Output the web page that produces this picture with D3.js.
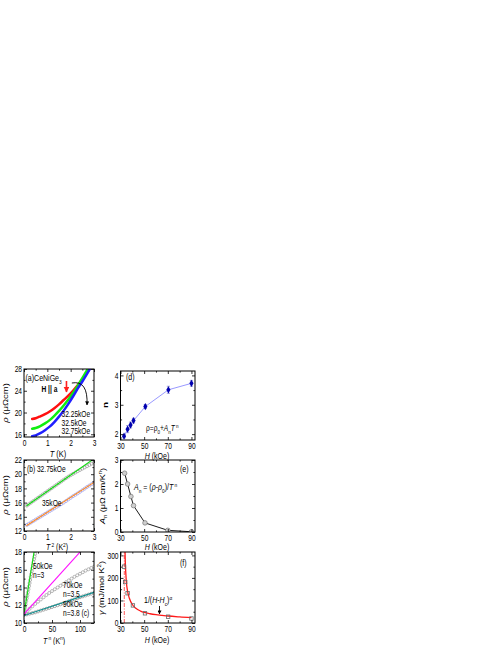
<!DOCTYPE html>
<html><head><meta charset="utf-8">
<script src="https://cdn.jsdelivr.net/npm/d3@7"></script>
<style>body{margin:0;background:#fff} svg{display:block} text{font-family:"Liberation Sans",Arial,sans-serif}</style>
</head><body><svg id="c" width="498" height="645"></svg>
<script>
// ---------- DATA ----------
// (a) rho vs T
const aT      = [0.35,0.5,0.7,0.9,1.1,1.3,1.5,1.7,1.9,2.1,2.3,2.5,2.7,2.9];
const aRed    = [18.8,18.95,19.3,19.7,20.2,20.8,21.5,22.3,23.1,24.0,25.0,26.1,27.3,28.6];
const aGreen  = [17.0,17.15,17.5,18.0,18.6,19.4,20.3,21.3,22.4,23.6,24.9,26.3,27.8,29.3];
const aBlue   = [15.65,15.8,16.2,16.75,17.4,18.25,19.25,20.35,21.6,22.95,24.4,25.7,27.1,28.6];
const aLabels = ["32.25kOe","32.5kOe","32.75kOe"];
// (b) rho vs T^2
const bT2   = [0.12,0.2,0.3,0.4,0.5,0.6,0.7,0.8,0.9,1.0,1.1,1.2,1.3,1.4,1.5,1.6,1.7,1.8,1.9,2.0,2.1,2.2,2.3,2.4,2.5,2.6,2.7,2.8,2.9,3.0];
const b3275 = [15.58,15.76,15.99,16.22,16.45,16.68,16.91,17.14,17.37,17.6,17.83,18.06,18.29,18.52,18.75,18.98,19.21,19.44,19.66,19.86,20.05,20.24,20.42,20.6,20.78,20.95,21.12,21.3,21.48,21.65];
const b35   = [12.85,13.0,13.2,13.4,13.6,13.8,14.0,14.2,14.4,14.6,14.8,15.0,15.2,15.4,15.6,15.8,16.0,16.22,16.45,16.67,16.9,17.1,17.3,17.52,17.75,17.97,18.2,18.4,18.6,18.8];
const bFit3275X = [0.1,2.92], bFit3275Y = [15.53,22.0];
const bFit35X   = [0.1,3.0],  bFit35Y   = [12.75,18.85];
// (c) rho vs T^n
const c50X = [0.05,1,2,3,4,5,6,7,8,9,10,11,12,13,14,15,16,17,18,19,20,21];
const c50Y = [11.0,11.38,11.75,12.1,12.45,12.78,13.1,13.45,13.8,14.15,14.5,14.85,15.2,15.52,15.85,16.18,16.5,16.85,17.2,17.5,17.8,18.1];
const c70X = [0.05,5,10,15,20,25,30,35,40,45,50,55,60,65,70,75,80,85,90,95,100,105,110,115,120,125];
const c70Y = [11.0,11.3,11.6,11.88,12.15,12.4,12.65,12.9,13.15,13.38,13.6,13.8,14.0,14.2,14.4,14.6,14.8,15.0,15.2,15.38,15.55,15.72,15.9,16.05,16.2,16.35];
const c90X = [0.05,5,10,15,20,25,30,35,40,45,50,55,60,65,70,75,80,85,90,95,100,105,110,115,120,125];
const c90Y = [10.9,10.97,11.05,11.12,11.2,11.3,11.4,11.5,11.6,11.7,11.8,11.9,12.0,12.1,12.2,12.32,12.45,12.55,12.65,12.78,12.9,13.0,13.1,13.2,13.3,13.4];
const cFit50X = [0,18.5],  cFit50Y = [11.0,18.2];
const cFit70X = [0,103],   cFit70Y = [11.0,18.2];
const cFit90X = [0,125],   cFit90Y = [10.85,13.45];
// (d) exponent n vs H
const dH   = [33,36,38.5,41,51,70.5,90];
const dN   = [1.93,2.17,2.31,2.46,2.94,3.51,3.73];
const dErr = [0.06,0.12,0.1,0.08,0.07,0.12,0.1];
// (e) A_n vs H
const eH = [33.5,36,38.8,41,50.7,70,90];
const eA = [2.45,2.0,1.48,1.1,0.38,0.07,0.01];
// (f) gamma vs H
const fH = [33,34,36,40.5,50.7,70.3,90];
const fG = [250,182,132,78,43,28,20];
const fFitH = [33.85,34,34.5,35,36,37.5,40,43,47,50,55,60,65,70,80,90];
const fFitG = [315,280,220,180,140,110,82,65,53,47,41,37,34,31,27,24];
const fHc = 33.2;

// ---------- DRAWING ----------
const svg = d3.select('#c');
const SX = 0.78;   // horizontal text compression of the reference
const FF = '"Liberation Sans",Arial,sans-serif';

function rich(parent, x, y, parts, o = {}) {
  const size = o.fs || 9;
  const t = parent.append('text')
    .attr('transform', o.rot ? `translate(${x},${y}) rotate(-90) scale(1,${SX})` : `translate(${x},${y}) scale(${SX},1)`)
    .attr('font-size', size).attr('text-anchor', o.anchor || 'start').attr('fill', o.fill || '#000');
  let shift = 0;
  parts.forEach(p => {
    const [s, st] = Array.isArray(p) ? p : [p, ''];
    const toks = st.split(' ');
    let target = 0, k = 1;
    if (toks.includes('sub')) { target = 0.3; k = 0.68; }
    if (toks.includes('sup')) { target = -0.38; k = 0.68; }
    const ts = t.append('tspan').text(s).attr('dy', ((target - shift) * size).toFixed(2));
    shift = target;
    if (k !== 1) ts.attr('font-size', size * k);
    if (toks.includes('i')) ts.attr('font-style', 'italic');
    if (toks.includes('b')) ts.attr('font-weight', 'bold');
  });
  return t;
}

let pid = 0;
function panel(o) {
  const x = d3.scaleLinear().domain(o.xd).range([o.l, o.r]);
  const y = d3.scaleLinear().domain(o.yd).range([o.b, o.t]);
  const id = 'clip' + (pid++);
  svg.append('clipPath').attr('id', id).append('rect')
    .attr('x', o.l).attr('y', o.t).attr('width', o.r - o.l).attr('height', o.b - o.t);
  const g = svg.append('g');
  const data = g.append('g').attr('clip-path', `url(#${id})`);
  const mk = (fn, sc, vals, size, labels, tr) => {
    const a = fn(sc).tickValues(vals).tickSizeInner(-size).tickSizeOuter(0).tickPadding(2.5);
    if (!labels) a.tickFormat(''); else a.tickFormat(d3.format('d'));
    const ag = g.append('g').attr('transform', tr).call(a);
    ag.select('.domain').remove();
    ag.selectAll('line').attr('stroke', '#000').attr('stroke-width', 0.8);
    ag.selectAll('text').attr('font-size', 8.5).attr('font-family', FF).attr('fill', '#000')
      .attr('transform', `scale(${SX},1)`);
  };
  mk(d3.axisBottom, x, o.xt, 3, true, `translate(0,${o.b})`);
  mk(d3.axisBottom, x, o.xm, 1.6, false, `translate(0,${o.b})`);
  mk(d3.axisTop, x, o.xt, 3, false, `translate(0,${o.t})`);
  mk(d3.axisTop, x, o.xm, 1.6, false, `translate(0,${o.t})`);
  mk(d3.axisLeft, y, o.yt, 3, true, `translate(${o.l},0)`);
  mk(d3.axisLeft, y, o.ym, 1.6, false, `translate(${o.l},0)`);
  mk(d3.axisRight, y, o.yt, 3, false, `translate(${o.r},0)`);
  mk(d3.axisRight, y, o.ym, 1.6, false, `translate(${o.r},0)`);
  g.append('rect').attr('x', o.l).attr('y', o.t).attr('width', o.r - o.l).attr('height', o.b - o.t)
    .attr('fill', 'none').attr('stroke', '#000').attr('stroke-width', 1);
  return { x, y, g, data };
}
const zip = (X, Y) => X.map((v, i) => [v, Y[i]]);

// arrow markers (fixed size in user space)
const defs = svg.append('defs');
[['ak', '#000', 4], ['ar', '#ff2020', 6]].forEach(([id, c, s]) => {
  defs.append('marker').attr('id', id).attr('viewBox', '0 0 10 10').attr('refX', 9).attr('refY', 5)
    .attr('markerUnits', 'userSpaceOnUse').attr('markerWidth', s).attr('markerHeight', s).attr('orient', 'auto')
    .append('path').attr('d', 'M0,0 L10,5 L0,10 z').attr('fill', c);
});

const L = { l: 24, r: 94 }, R = { l: 120.5, r: 195 };
const circ = (p, X, Y, c) => p.data.append('g').selectAll('circle').data(zip(X, Y)).join('circle')
  .attr('cx', d => p.x(d[0])).attr('cy', d => p.y(d[1])).attr('r', 1.5)
  .attr('fill', 'none').attr('stroke', c).attr('stroke-width', 0.7);
const seg = (p, X, Y, c) => p.data.append('line').attr('x1', p.x(X[0])).attr('y1', p.y(Y[0]))
  .attr('x2', p.x(X[1])).attr('y2', p.y(Y[1])).attr('stroke', c).attr('stroke-width', 1.1);

// ----- (a)
{
  const p = panel({ ...L, t: 369, b: 437, xd: [0, 3], yd: [15.5, 28],
    xt: [0, 1, 2, 3], xm: [0.5, 1.5, 2.5], yt: [16, 20, 24, 28], ym: [18, 22, 26] });
  const line = d3.line().x(d => p.x(d[0])).y(d => p.y(d[1])).curve(d3.curveMonotoneX);
  [[aRed, '#ff1010'], [aGreen, '#10ee10'], [aBlue, '#2020ff']].forEach(([Y, c]) => {
    p.data.append('path').attr('d', line(zip(aT, Y))).attr('fill', 'none').attr('stroke', c)
      .attr('stroke-width', 2.5).attr('stroke-linecap', 'round');
  });
  rich(svg, 25.5, 381, ['(a)CeNiGe', ['3', 'sub']], { fs: 9 });
  rich(svg, 41.5, 392, [['H', 'b'], ['  ||  ', 'b'], ['a', 'b']], { fs: 8.5 });
  svg.append('line').attr('x1', p.x(1.82)).attr('y1', 381).attr('x2', p.x(1.82)).attr('y2', 392)
    .attr('stroke', '#ff2020').attr('stroke-width', 1.6).attr('marker-end', 'url(#ar)');
  svg.append('path').attr('d', `M${p.x(2.05)},383 Q${p.x(2.75)},380 ${p.x(2.7)},405`)
    .attr('fill', 'none').attr('stroke', '#000').attr('stroke-width', 0.9).attr('marker-end', 'url(#ak)');
  aLabels.forEach((s, i) => rich(svg, 61.5, 417 + i * 8.5, [s], { fs: 8.5 }));
  rich(svg, 7.5, 403, [['ρ', 'i'], ' (μΩcm)'], { rot: true, anchor: 'middle', fs: 9.5 });
  rich(svg, 58, 457, [['T', 'i'], ' (K)'], { anchor: 'middle', fs: 9.5 });
}
// ----- (b)
{
  const p = panel({ ...L, t: 460, b: 531, xd: [0, 3], yd: [12, 22],
    xt: [0, 1, 2, 3], xm: [0.5, 1.5, 2.5], yt: [12, 14, 16, 18, 20, 22], ym: [13, 15, 17, 19, 21] });
  circ(p, bT2, b3275, '#999');
  circ(p, bT2, b35, '#9a9ae6');
  seg(p, bFit3275X, bFit3275Y, '#10dd10');
  seg(p, bFit35X, bFit35Y, '#ff8a20');
  rich(svg, 27, 472, ['(b) 32.75kOe'], { fs: 8.5 });
  rich(svg, 42, 506, ['35kOe'], { fs: 8.5 });
  rich(svg, 7.5, 495, [['ρ', 'i'], ' (μΩcm)'], { rot: true, anchor: 'middle', fs: 9.5 });
  rich(svg, 57, 550, [['T', 'i'], [' 2', 'sup'], ' (K', ['2', 'sup'], ')'], { anchor: 'middle', fs: 9 });
}
// ----- (c)
{
  const p = panel({ ...L, t: 552, b: 623, xd: [0, 125], yd: [10, 18],
    xt: [0, 50, 100], xm: [25, 75, 125], yt: [10, 12, 14, 16, 18], ym: [11, 13, 15, 17] });
  circ(p, c50X, c50Y, '#999'); circ(p, c70X, c70Y, '#999'); circ(p, c90X, c90Y, '#888');
  seg(p, cFit50X, cFit50Y, '#10dd10');
  seg(p, cFit70X, cFit70Y, '#ff10ff');
  seg(p, cFit90X, cFit90Y, '#109090');
  rich(svg, 33, 569, ['50kOe'], { fs: 8.5 });
  rich(svg, 33, 578, ['n=3'], { fs: 8.5 });
  rich(svg, 63, 588, ['70kOe'], { fs: 8.5 });
  rich(svg, 63, 597, ['n=3.5'], { fs: 8.5 });
  rich(svg, 63, 607, ['90kOe'], { fs: 8.5 });
  rich(svg, 63, 616, ['n=3.8 (c)'], { fs: 8.5 });
  rich(svg, 7.5, 587, [['ρ', 'i'], ' (μΩcm)'], { rot: true, anchor: 'middle', fs: 9.5 });
  rich(svg, 54, 643.5, [['T', 'i'], [' n', 'sup'], ' (K', ['n', 'sup'], ')'], { anchor: 'middle', fs: 9 });
}
// ----- (d)
{
  const p = panel({ ...R, t: 371, b: 440, xd: [30, 93], yd: [1.8, 4.15],
    xt: [30, 50, 70, 90], xm: [40, 60, 80], yt: [2, 3, 4], ym: [2.5, 3.5] });
  const pts = dH.map((h, i) => [h, dN[i], dErr[i]]);
  p.data.append('path').attr('d', d3.line().x(d => p.x(d[0])).y(d => p.y(d[1]))(pts))
    .attr('fill', 'none').attr('stroke', '#9999ff').attr('stroke-width', 1);
  const eb = p.data.append('g').attr('stroke', '#8c8cd0').attr('stroke-width', 0.8);
  pts.forEach(d => {
    const cx = p.x(d[0]);
    eb.append('line').attr('x1', cx).attr('x2', cx).attr('y1', p.y(d[1] - d[2])).attr('y2', p.y(d[1] + d[2]));
    [d[1] - d[2], d[1] + d[2]].forEach(v => eb.append('line').attr('x1', cx - 1.6).attr('x2', cx + 1.6)
      .attr('y1', p.y(v)).attr('y2', p.y(v)));
  });
  p.data.append('g').selectAll('path').data(pts).join('path')
    .attr('d', d3.symbol(d3.symbolDiamond, 15))
    .attr('transform', d => `translate(${p.x(d[0])},${p.y(d[1])})`).attr('fill', '#0000b0');
  rich(svg, 126, 380, ['(d)'], { fs: 9 });
  rich(svg, 146, 431, ['ρ=ρ', ['0', 'sub'], '+', ['A', 'i'], ['n', 'sub'], ['T', 'i'], [' n', 'sup']], { fs: 8.5 });
  rich(svg, 108, 405, [['n', 'b']], { rot: true, anchor: 'middle', fs: 10 });
  rich(svg, 157, 458.5, [['H', 'i'], ' (kOe)'], { anchor: 'middle', fs: 9 });
}
// ----- (e)
{
  const p = panel({ ...R, t: 460, b: 532, xd: [30, 93], yd: [0, 3],
    xt: [30, 50, 70, 90], xm: [40, 60, 80], yt: [0, 1, 2, 3], ym: [0.5, 1.5, 2.5] });
  const pts = zip(eH, eA);
  p.data.append('path').attr('d', d3.line().x(d => p.x(d[0])).y(d => p.y(d[1]))(pts))
    .attr('fill', 'none').attr('stroke', '#000').attr('stroke-width', 0.9);
  p.data.append('g').selectAll('circle').data(pts).join('circle')
    .attr('cx', d => p.x(d[0])).attr('cy', d => p.y(d[1])).attr('r', 2.3)
    .attr('fill', '#cfcfcf').attr('stroke', '#777').attr('stroke-width', 0.7);
  rich(svg, 180, 472, ['(e)'], { fs: 9 });
  rich(svg, 134, 490, [['A', 'i'], ['n', 'sub'], ' = (', ['ρ', 'i'], '-', ['ρ', 'i'], ['0', 'sub'], ')/', ['T', 'i'], [' n', 'sup']], { fs: 9 });
  rich(svg, 105, 496, [['A', 'i'], ['n', 'sub'], ' (μΩ cm/K', ['n', 'sup'], ')'], { rot: true, anchor: 'middle', fs: 9 });
  rich(svg, 157, 550, [['H', 'i'], ' (kOe)'], { anchor: 'middle', fs: 9 });
}
// ----- (f)
{
  const p = panel({ ...R, t: 552, b: 623, xd: [30, 93], yd: [0, 315],
    xt: [30, 50, 70, 90], xm: [40, 60, 80], yt: [0, 100, 200, 300], ym: [50, 150, 250] });
  p.data.append('line').attr('x1', p.x(fHc)).attr('x2', p.x(fHc)).attr('y1', p.y(0)).attr('y2', p.y(315))
    .attr('stroke', '#ff3030').attr('stroke-width', 0.8).attr('stroke-dasharray', '4,1.5,1,1.5');
  p.data.append('path').attr('d', d3.line().x(d => p.x(d[0])).y(d => p.y(d[1])).curve(d3.curveMonotoneX)(zip(fFitH, fFitG)))
    .attr('fill', 'none').attr('stroke', '#ff1a1a').attr('stroke-width', 1.3);
  p.data.append('g').selectAll('rect').data(zip(fH, fG)).join('rect')
    .attr('x', d => p.x(d[0]) - 1.7).attr('y', d => p.y(d[1]) - 1.7).attr('width', 3.4).attr('height', 3.4)
    .attr('fill', 'none').attr('stroke', '#666').attr('stroke-width', 0.8);
  rich(svg, 180, 566, ['(f)'], { fs: 9 });
  rich(svg, 144, 603, ['1/(', ['H', 'i'], '-', ['H', 'i'], ['c', 'sub'], ')', ['α', 'sup']], { fs: 9 });
  svg.append('line').attr('x1', 159.5).attr('x2', 159.5).attr('y1', 606).attr('y2', 614)
    .attr('stroke', '#000').attr('stroke-width', 0.9).attr('marker-end', 'url(#ak)');
  rich(svg, 104, 588, [['γ', 'i'], ' (mJ/mol K', ['2', 'sup'], ')'], { rot: true, anchor: 'middle', fs: 9 });
  rich(svg, 157, 643, [['H', 'i'], ' (kOe)'], { anchor: 'middle', fs: 9 });
}
</script></body></html>
